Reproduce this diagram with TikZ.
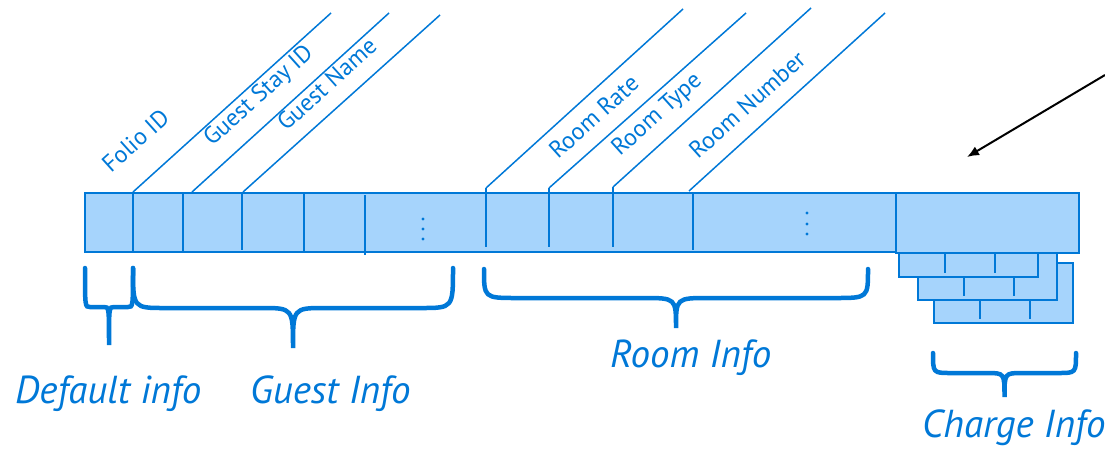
\documentclass[tikz,border=0pt]{standalone}
\usepackage{fontspec}
\setmainfont{PT Sans}
\usetikzlibrary{calc,arrows.meta}
\definecolor{recblue}{RGB}{0,120,215}
\definecolor{recfill}{RGB}{166,212,252}
\tikzset{
  field/.style={draw=recblue, fill=recfill, line width=2pt},
  divider/.style={recblue, line width=2pt},
  leader/.style={recblue, line width=1.5pt},
  fieldname/.style={text=recblue, rotate=42, anchor=base west, inner sep=0pt, font=\fontsize{24}{26}\selectfont},
  groupname/.style={text=recblue, anchor=base west, inner sep=0pt, font=\fontsize{39}{41}\selectfont\itshape},
  brace/.style={recblue, line width=4.5pt, line cap=round},
  pointer/.style={line width=2pt, -{Latex[length=12pt,width=10pt]}},
}
% curly brace: left x, right x, top y, middle y, tip y, corner radius
\newcommand{\groupbrace}[6]{%
  \draw[brace] (#1,#3) .. controls (#1,#4) .. ({#1+#6},#4)
    -- ({(#1+#2)/2-#6},#4) .. controls ({(#1+#2)/2},#4) .. ({(#1+#2)/2},#5)
    .. controls ({(#1+#2)/2},#4) .. ({(#1+#2)/2+#6},#4)
    -- ({#2-#6},#4) .. controls (#2,#4) .. (#2,#3);}

\begin{document}
\begin{tikzpicture}[x=1pt,y=-1pt]
  \useasboundingbox (0,0) rectangle (1105,451);

  % charge records stacked behind the charge field
  \foreach \x/\y in {934/263, 918/240, 899/217}{
    \draw[field, line width=1.5pt] (\x,\y) rectangle ++(139,60);
    \foreach \d in {46,96}
      \draw[divider, line width=1.5pt] (\x+\d,\y) -- (\x+\d,\y+56);
  }

  % the record bar and the charge field
  \draw[field] (85,193) rectangle (896,252);
  \draw[field] (896,193) rectangle (1079,253);

  % field dividers
  \foreach \x/\a/\b in {133/193/252, 183/193/252, 242/193/250, 304/193/252,
      365/195/255, 486/188/247, 549/188/247, 613/187/247, 693/192/250}
    \draw[divider] (\x,\a) -- (\x,\b);

  % dots for the remaining fields
  \foreach \y in {219,229,239} \fill[recblue] (423,\y) circle (1.6);
  \foreach \y in {213,224,234} \fill[recblue] (807,\y) circle (1.6);

  % leaders up to the field names
  \foreach \n/\x/\y/\ex/\ey in {f1/133/192/331/13, f2/192/192/389/13, f3/243/192/440/15,
      r0/486/188/683/9, r1/549/188/746/13, r2/613/187/811/8, r3/689/191/885/13}{
    \coordinate (\n) at (\x,\y);
    \coordinate (\n-end) at (\ex,\ey);
    \draw[leader] (\n) -- (\n-end);
  }

  % field names
  \node[fieldname] (folio) at (111,174) {Folio ID};
  \node[fieldname] (stayid) at (212,147) {Guest Stay ID};
  \node[fieldname] (gname) at (286,132) {Guest Name};
  \node[fieldname] (rrate) at (558,160) {Room Rate};
  \node[fieldname] (rtype) at (620,157) {Room Type};
  \node[fieldname] (rnumber) at (698,160) {Room Number};

  % groups
  \groupbrace{85}{133}{268}{307}{345}{5}
  \groupbrace{133}{453}{268}{308}{348}{32}
  \groupbrace{484}{868}{269}{298}{328}{33}
  \groupbrace{933}{1076}{353}{373}{397}{18}

  \node[groupname] (default) at (15,403) {Default info};
  \node[groupname] (guest) at (250,403) {Guest Info};
  \node[groupname] (room) at (610,367) {Room Info};
  \node[groupname] (charge) at (922,437) {Charge Info};

  % pointer
  \coordinate (ptr) at (1105,75);
  \coordinate (ptrtip) at (967,157);
  \draw[pointer] (ptr) -- (ptrtip);
\end{tikzpicture}
\end{document}
